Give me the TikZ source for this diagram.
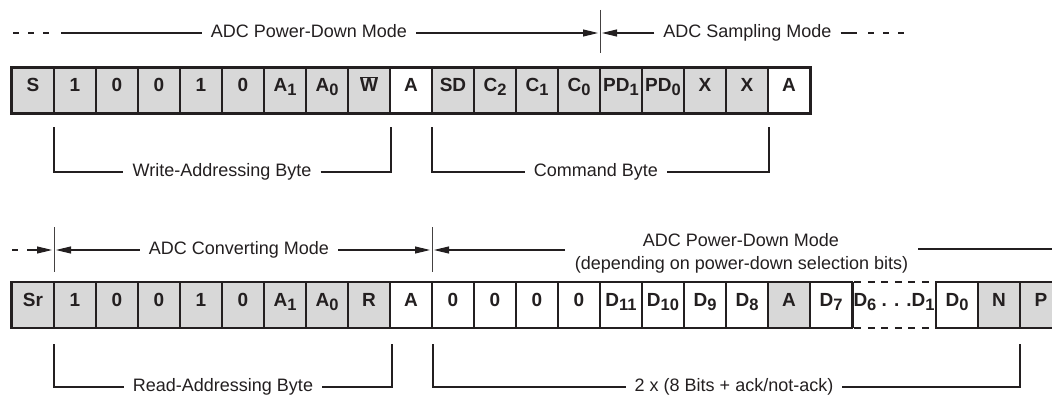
\documentclass[tikz,border=0pt]{standalone}
\usepackage{fontspec}
\setmainfont{Liberation Sans}
\usetikzlibrary{arrows.meta}
\definecolor{cellgray}{RGB}{216,216,216}
\definecolor{ink}{RGB}{35,31,32}
\newcommand{\sbs}[1]{\raisebox{-4pt}{\fontsize{16.5}{16.5}\selectfont #1}}
\newcommand{\wbar}{$\overline{\hbox{W}}$}
\begin{document}
\begin{tikzpicture}[x=1pt,y=-1pt,
  cell/.style={draw=ink, line width=1.5pt, minimum width=42pt, minimum height=45pt,
    inner sep=0pt, font=\fontsize{19}{19}\selectfont\bfseries, text=ink,
    text height=13.6pt, text depth=10.8pt},
  lbl/.style={font=\fontsize{18}{18}\selectfont, text=ink, inner xsep=9pt,
    inner ysep=0pt, text height=9pt, text depth=0pt},
  ln/.style={draw=ink, line width=1.1pt, line join=miter},
  sepln/.style={draw=ink!85, line width=0.8pt},
  arr/.style={ln, -{Triangle[length=15pt,width=7pt]}, shorten >=2pt},
  dsh/.style={ln, dash pattern=on 6pt off 9pt},
  outer/.style={draw=ink, line width=2.3pt}
]
\useasboundingbox (0,0) rectangle (1052,396);
\clip (0,0) rectangle (1052,396);

% ---------- top row ----------
\foreach \f/\t [count=\i from 0] in {cellgray/S, cellgray/1, cellgray/0, cellgray/0,
  cellgray/1, cellgray/0, cellgray/A\sbs{1}, cellgray/A\sbs{0}, cellgray/\wbar,
  white/A, cellgray/SD, cellgray/C\sbs{2}, cellgray/C\sbs{1}, cellgray/C\sbs{0},
  cellgray/PD\sbs{1}, cellgray/PD\sbs{0}, cellgray/X, cellgray/X, white/A}
  { \node[cell, fill=\f] (t\i) at (33+42*\i, 90.5) {\t}; }
\draw[outer] (t0.north west) rectangle (t18.south east);

% ---------- bottom row ----------
\foreach \f/\t [count=\i from 0] in {cellgray/Sr, cellgray/1, cellgray/0, cellgray/0,
  cellgray/1, cellgray/0, cellgray/A\sbs{1}, cellgray/A\sbs{0}, cellgray/R,
  white/A, white/0, white/0, white/0, white/0, white/D\sbs{11}, white/D\sbs{10},
  white/D\sbs{9}, white/D\sbs{8}, cellgray/A, white/D\sbs{7}}
  { \node[cell, fill=\f] (b\i) at (33+42*\i, 305) {\t}; }
\node[cell, draw=none, fill=white, minimum width=84pt] (bdots) at (894,305)
  {D\sbs{6} . . .D\sbs{1}};
\node[cell, fill=white] (b20) at (957,305) {D\sbs{0}};
\node[cell, fill=cellgray] (b21) at (999,305) {N};
\node[cell, fill=cellgray] (b22) at (1041,305) {P};
\draw[outer] (b19.north east) -- (b0.north west) -- (b0.south west) -- (b19.south east);
\draw[outer] (b20.north west) -- (b22.north east);
\draw[outer] (b20.south west) -- (b22.south east);
\draw[outer, line cap=butt, dash pattern=on 7pt off 6.5pt, dash phase=-3pt]
  (bdots.north west) -- (bdots.north east);
\draw[outer, line cap=butt, dash pattern=on 7pt off 6.5pt, dash phase=-3pt]
  (bdots.south west) -- (bdots.south east);
\draw[draw=ink, line width=1.5pt] (b19.north east) -- (b19.south east);
\draw[draw=ink, line width=1.5pt] (b20.north west) -- (b20.south west);

% ---------- top mode line ----------
\coordinate (da) at (13,33); \coordinate (db) at (50,33);
\draw[dsh] (da) -- (db);
\node[lbl] (pdm) at (309,33) {ADC Power-Down Mode};
\coordinate (pl) at (61,33);
\draw[ln] (pl) -- (pdm.west);
\coordinate (sep1) at (600,33);
\coordinate (sep1t) at (600,10); \coordinate (sep1b) at (600,53);
\draw[sepln] (sep1t) -- (sep1b);
\draw[arr] (pdm.east) -- (sep1);
\node[lbl] (sam) at (747.5,33) {ADC Sampling Mode};
\draw[arr] (sam.west) -- (sep1);
\coordinate (sr) at (857,33);
\draw[ln] (sam.east) -- (sr);
\coordinate (dc) at (868,33); \coordinate (dd) at (905,33);
\draw[dsh] (dc) -- (dd);

% ---------- top brackets ----------
\node[lbl] (wab) at (222,172) {Write-Addressing Byte};
\coordinate (wab1) at (54,127); \coordinate (wab2) at (391,127);
\draw[ln] (wab1) |- (wab.west);
\draw[ln] (wab.east) -| (wab2);
\node[lbl] (cmb) at (596,172) {Command Byte};
\coordinate (cmb1) at (432,127); \coordinate (cmb2) at (769,127);
\draw[ln] (cmb1) |- (cmb.west);
\draw[ln] (cmb.east) -| (cmb2);

% ---------- bottom mode line ----------
\coordinate (de) at (12,250); \coordinate (df) at (18,250);
\draw[ln] (de) -- (df);
\coordinate (dg) at (27,250);
\coordinate (sep2) at (54,250);
\coordinate (sep2t) at (54,227); \coordinate (sep2b) at (54,272);
\draw[sepln] (sep2t) -- (sep2b);
\draw[arr] (dg) -- (sep2);
\node[lbl] (cvm) at (239,250) {ADC Converting Mode};
\draw[arr] (cvm.west) -- (sep2);
\coordinate (sep3) at (432,250);
\coordinate (sep3t) at (432,227); \coordinate (sep3b) at (432,272);
\draw[sepln] (sep3t) -- (sep3b);
\draw[arr] (cvm.east) -- (sep3);
\coordinate (pdl) at (565,250);
\draw[arr] (pdl) -- (sep3);
\node[lbl, anchor=base] (pdma) at (741,246) {ADC Power-Down Mode};
\node[lbl, anchor=base] (pdmb) at (741.5,269) {(depending on power-down selection bits)};
\coordinate (pdr1) at (918,249); \coordinate (pdr2) at (1052,249);
\draw[ln] (pdr1) -- (pdr2);

% ---------- bottom brackets ----------
\node[lbl] (rab) at (223,387) {Read-Addressing Byte};
\coordinate (rab1) at (54,344); \coordinate (rab2) at (392,344);
\draw[ln] (rab1) |- (rab.west);
\draw[ln] (rab.east) -| (rab2);
\node[lbl] (nbx) at (734,387) {2 x (8 Bits + ack/not-ack)};
\coordinate (nbx1) at (433,344); \coordinate (nbx2) at (1020,344);
\draw[ln] (nbx1) |- (nbx.west);
\draw[ln] (nbx.east) -| (nbx2);
\end{tikzpicture}
\end{document}
